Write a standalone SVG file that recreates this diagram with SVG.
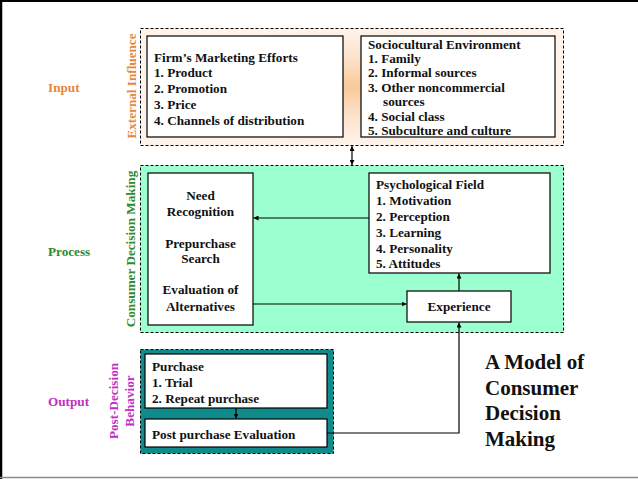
<svg xmlns="http://www.w3.org/2000/svg" width="638" height="479" viewBox="0 0 638 479">
<style>
.t{font-family:"Liberation Serif","Times New Roman",serif;font-weight:bold;font-size:13.2px;fill:#111;}
.c{text-anchor:middle;}
.box{fill:#fff;stroke:#000;stroke-width:1.2;}
.dash{stroke:#000;stroke-width:1;stroke-dasharray:3,2;}
.ln{fill:none;stroke:#000;stroke-width:1.2;}
.title{font-family:"Liberation Serif","Times New Roman",serif;font-weight:bold;font-size:21px;fill:#111;}
</style>
<defs>
<radialGradient id="peach" cx="0.5" cy="0.5" r="0.5">
<stop offset="0" stop-color="#F9C99A"/>
<stop offset="0.5" stop-color="#FCE3CB"/>
<stop offset="1" stop-color="#FEF4EC"/>
</radialGradient>
<marker id="ah" viewBox="0 0 10 10" refX="10" refY="5" markerWidth="5" markerHeight="5" orient="auto-start-reverse" markerUnits="userSpaceOnUse">
<path d="M0,0 L10,5 L0,10 z" fill="#000"/>
</marker>
</defs>
<rect x="0" y="0" width="638" height="479" fill="#fff"/>
<g id="frame">
<line x1="0" y1="1" x2="638" y2="1" stroke="#000" stroke-width="2"/>
<line x1="1" y1="0" x2="1" y2="479" stroke="#000" stroke-width="2.5"/>
<line x1="0" y1="477.5" x2="638" y2="477.5" stroke="#8a8a8a" stroke-width="1.5"/>
</g>
<g id="labels">
<text class="t" x="48" y="91.5" style="fill:#E8873A">Input</text>
<text class="t" x="48" y="255.5" style="fill:#2E8B2E">Process</text>
<text class="t" x="48" y="406" style="fill:#C030C0">Output</text>
<text class="t c" transform="translate(136,86) rotate(-90)" style="fill:#E8873A">External Influence</text>
<text class="t c" transform="translate(134.5,249) rotate(-90)" style="fill:#2E8B2E">Consumer Decision Making</text>
<text class="t c" transform="translate(118,401) rotate(-90)" style="fill:#C030C0">Post-Decision</text>
<text class="t c" transform="translate(134,401) rotate(-90)" style="fill:#C030C0">Behavior</text>
</g>
<g id="external">
<rect x="140.5" y="28.5" width="423" height="117" fill="url(#peach)" class="dash"/>
</g>
<g id="firm">
<rect class="box" x="147" y="36" width="196" height="101"/>
<text class="t" x="154" y="61.5">Firm’s Marketing Efforts</text>
<text class="t" x="154" y="77.3">1. Product</text>
<text class="t" x="154" y="93">2. Promotion</text>
<text class="t" x="154" y="108.8">3. Price</text>
<text class="t" x="154" y="124.5">4. Channels of distribution</text>
</g>
<g id="socio">
<rect class="box" x="361" y="36" width="194" height="101"/>
<text class="t" x="368" y="48.5">Sociocultural Environment</text>
<text class="t" x="368" y="62.9">1. Family</text>
<text class="t" x="368" y="77.3">2. Informal sources</text>
<text class="t" x="368" y="91.7">3. Other noncommercial</text>
<text class="t" x="383" y="106.1">sources</text>
<text class="t" x="368" y="120.5">4. Social class</text>
<text class="t" x="368" y="134.9">5. Subculture and culture</text>
</g>
<g id="process">
<rect x="140.5" y="165.5" width="423" height="167" fill="#9CFFCF" class="dash"/>
</g>
<g id="stages">
<rect class="box" x="148" y="173" width="105" height="152"/>
<text class="t c" x="200.5" y="199.5">Need</text>
<text class="t c" x="200.5" y="215.5">Recognition</text>
<text class="t c" x="200.5" y="247.5">Prepurchase</text>
<text class="t c" x="200.5" y="262.5">Search</text>
<text class="t c" x="200.5" y="293.5">Evaluation of</text>
<text class="t c" x="200.5" y="310.5">Alternatives</text>
</g>
<g id="psych">
<rect class="box" x="369" y="173" width="181" height="100"/>
<text class="t" x="376" y="189">Psychological Field</text>
<text class="t" x="376" y="205">1. Motivation</text>
<text class="t" x="376" y="221">2. Perception</text>
<text class="t" x="376" y="236.5">3. Learning</text>
<text class="t" x="376" y="252.5">4. Personality</text>
<text class="t" x="376" y="268">5. Attitudes</text>
</g>
<g id="experience">
<rect class="box" x="407" y="291" width="104" height="31"/>
<text class="t c" x="459" y="311">Experience</text>
</g>
<g id="output">
<rect x="140.5" y="349.5" width="193" height="104" fill="#108A8A" class="dash"/>
</g>
<g id="purchase">
<rect class="box" x="145" y="354" width="182" height="54"/>
<text class="t" x="152" y="371">Purchase</text>
<text class="t" x="152" y="387">1. Trial</text>
<text class="t" x="152" y="403">2. Repeat purchase</text>
</g>
<g id="postpurchase">
<rect class="box" x="145" y="419" width="182" height="28"/>
<text class="t" x="152" y="439">Post purchase Evaluation</text>
</g>
<g id="connectors">
<line class="ln" x1="352" y1="146" x2="352" y2="165" marker-start="url(#ah)" marker-end="url(#ah)"/>
<line class="ln" x1="369" y1="218" x2="253.5" y2="218" marker-end="url(#ah)"/>
<line class="ln" x1="253" y1="304" x2="406.5" y2="304" marker-end="url(#ah)"/>
<line class="ln" x1="459" y1="291" x2="459" y2="273.5" marker-end="url(#ah)"/>
<polyline class="ln" points="327,433 459,433 459,322.5" marker-end="url(#ah)"/>
<line class="ln" x1="236" y1="408" x2="236" y2="418.5" marker-end="url(#ah)"/>
</g>
<g id="title">
<text class="title" x="485" y="369">A Model of</text>
<text class="title" x="485" y="395">Consumer</text>
<text class="title" x="485" y="420">Decision</text>
<text class="title" x="485" y="446">Making</text>
</g>
</svg>
